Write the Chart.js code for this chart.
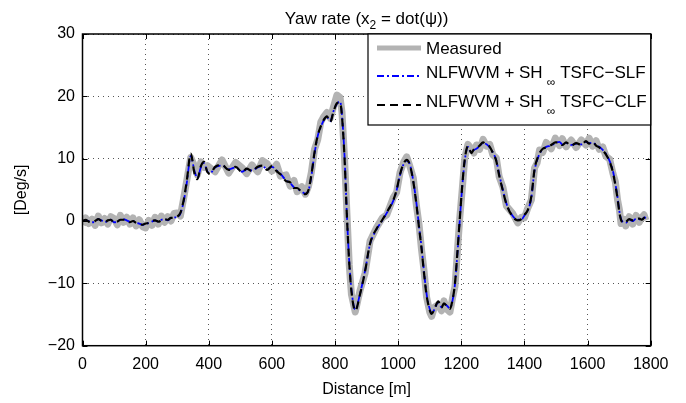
<!DOCTYPE html>
<html>
<head>
<meta charset="utf-8">
<script src="https://cdn.jsdelivr.net/npm/chart.js@4.4.1/dist/chart.umd.min.js"></script>
<style>
  body { margin: 0; background: #fff; }
  canvas { display: block; }
</style>
</head>
<body>
<canvas id="yawChart" width="686" height="403"></canvas>
<script>
// Distance [m] (same sampling for all three curves)
const distance = [
  0, 10, 20, 30, 40, 50, 60, 70, 80, 90,
  100, 110, 120, 130, 140, 150, 160, 170, 180, 190,
  200, 210, 220, 230, 240, 250, 260, 270, 280, 290,
  300, 310, 320, 330, 343, 355, 364, 375, 385, 395,
  405, 420, 442, 463, 485, 506, 520, 537, 555, 570,
  585, 600, 615, 627, 645, 658, 670, 680, 695, 706,
  716, 725, 735, 745, 755, 765, 774, 785, 795, 806,
  816, 822, 830, 838, 845, 852, 864, 879, 895, 911,
  932, 950, 964, 985, 995, 1006, 1018, 1027, 1037, 1048,
  1058, 1066, 1074, 1082, 1090, 1100, 1106, 1115, 1127, 1137,
  1145, 1153, 1164, 1172, 1180, 1188, 1195, 1203, 1211, 1221,
  1232, 1240, 1248, 1258, 1269, 1280, 1290, 1300, 1311, 1320,
  1332, 1343, 1363, 1379, 1390, 1400, 1410, 1422, 1432, 1440,
  1448, 1458, 1469, 1485, 1498, 1511, 1520, 1532, 1548, 1564,
  1580, 1595, 1605, 1616, 1627, 1637, 1648, 1658, 1670, 1680,
  1688, 1695, 1701, 1706, 1714, 1721, 1732, 1743, 1754, 1764,
  1772, 1779, 1785
];

// Measured yaw rate [Deg/s]
const measuredYaw = [
  -0.6, 0.5, -0.4, 0.3, -0.7, 0.8, -0.3, 0.4, -0.5, 0.7,
  0.4, -0.6, 0.9, -0.2, 0.6, -0.5, 0.5, -0.8, 0.2, -0.9,
  -1.1, 0.1, -0.7, 0.6, -0.5, 0.8, -0.2, 0.7, 0.0, 1.2,
  1.3, 0.8, 3.5, 6.4, 10.2, 8.8, 7.4, 9.5, 8.6, 8.9,
  8.5, 7.9, 9.8, 7.7, 9.4, 8.5, 7.6, 9.0, 7.9, 9.7,
  9.2, 8.0, 9.1, 7.2, 7.4, 5.6, 6.5, 4.7, 5.5, 4.3,
  5.6, 7.8, 11.5, 13.0, 15.9, 16.8, 17.4, 16.5, 18.3, 20.2,
  19.8, 17.5, 10.2, 0.9, -7.0, -11.8, -14.6, -11.2, -8.4, -3.2,
  -1.0, 0.5, 1.0, 3.8, 4.6, 7.8, 9.5, 10.3, 8.8, 6.9,
  2.4, -0.5, -4.6, -8.0, -12.2, -14.6, -15.3, -13.8, -13.4, -14.4,
  -12.8, -14.1, -14.6, -12.4, -10.5, -4.6, 0.4, 5.1, 10.1, 12.3,
  11.6, 10.9, 12.2, 11.5, 13.1, 12.0, 12.3, 10.6, 10.1, 7.1,
  5.4, 2.4, 1.2, -0.3, 0.6, 0.5, 2.0, 3.4, 8.5, 9.3,
  11.4, 11.0, 12.6, 11.6, 13.3, 12.1, 13.2, 11.9, 13.0, 11.8,
  13.0, 12.2, 13.3, 12.0, 12.9, 11.5, 11.9, 10.4, 9.9, 7.7,
  6.3, 3.4, 1.8, -0.4, 0.3, -0.8, 0.7, -0.5, 0.9, -0.2,
  0.6, 1.0, 0.1
];

// NLFWVM + SH∞ TSFC-SLF estimate
const slfYaw = [
  0.0, 0.1, 0.0, -0.2, -0.1, 0.3, 0.1, -0.2, 0.0, 0.2,
  -0.2, -0.1, 0.2, 0.3, 0.1, -0.1, 0.0, -0.3, -0.4, -0.6,
  -0.5, -0.3, -0.1, 0.1, -0.1, 0.2, 0.3, 0.1, 0.5, 0.6,
  0.6, 1.2, 3.0, 6.0, 10.4, 8.0, 6.9, 8.6, 9.3, 8.0,
  7.7, 8.6, 8.9, 8.3, 8.6, 7.9, 8.3, 8.1, 8.6, 8.8,
  8.3, 8.7, 8.1, 7.6, 6.5, 6.1, 5.4, 5.2, 4.7, 4.4,
  4.9, 7.2, 10.8, 13.6, 15.1, 16.2, 16.7, 16.0, 17.6, 18.8,
  19.2, 17.0, 10.5, 0.5, -6.5, -11.0, -14.2, -11.7, -8.0, -3.7,
  -1.3, 0.1, 1.3, 3.3, 4.9, 7.4, 9.2, 9.7, 9.1, 6.4,
  2.8, -0.8, -4.2, -8.2, -11.7, -14.1, -14.7, -14.2, -13.0, -13.8,
  -13.3, -13.5, -14.0, -12.8, -10.1, -5.0, 0.0, 5.5, 9.7, 11.9,
  11.0, 11.4, 11.6, 12.0, 12.5, 12.3, 11.8, 11.0, 9.7, 7.5,
  4.9, 2.8, 0.8, 0.2, 0.2, 0.9, 1.6, 3.8, 8.1, 9.7,
  10.8, 11.5, 11.9, 12.1, 12.5, 12.7, 12.3, 12.5, 12.2, 12.4,
  12.3, 12.7, 12.5, 12.6, 12.2, 11.9, 11.4, 10.8, 9.6, 8.1,
  6.0, 3.8, 1.5, 0.3, -0.2, -0.3, 0.2, 0.0, 0.4, 0.3,
  0.1, 0.6, 0.5
];

// NLFWVM + SH∞ TSFC-CLF estimate
const clfYaw = [
  0.0, 0.2, -0.1, -0.2, 0.0, 0.3, 0.0, -0.2, 0.1, 0.2,
  -0.3, -0.1, 0.2, 0.2, 0.1, -0.2, 0.0, -0.3, -0.5, -0.6,
  -0.4, -0.3, 0.0, 0.1, -0.1, 0.1, 0.3, 0.2, 0.5, 0.5,
  0.7, 1.3, 3.2, 6.3, 10.8, 7.6, 6.7, 8.8, 9.5, 7.9,
  7.6, 8.7, 9.0, 8.2, 8.7, 7.8, 8.4, 8.0, 8.7, 8.9,
  8.2, 8.8, 8.0, 7.5, 6.4, 6.2, 5.3, 5.3, 4.6, 4.3,
  5.0, 7.4, 11.0, 13.7, 15.2, 16.3, 16.8, 15.9, 17.5, 18.9,
  19.0, 16.8, 10.2, 0.3, -6.7, -11.3, -14.4, -11.8, -8.1, -3.6,
  -1.2, 0.2, 1.4, 3.4, 5.0, 7.5, 9.3, 9.8, 9.0, 6.3,
  2.6, -1.0, -4.4, -8.4, -11.9, -14.3, -14.9, -14.1, -12.9, -13.9,
  -13.2, -13.6, -14.1, -12.7, -10.0, -4.8, 0.2, 5.7, 9.9, 12.0,
  10.9, 11.5, 11.7, 12.1, 12.6, 12.2, 11.9, 10.9, 9.6, 7.3,
  4.8, 2.7, 0.7, 0.1, 0.3, 1.0, 1.7, 4.0, 8.3, 9.9,
  10.9, 11.6, 11.8, 12.2, 12.6, 12.6, 12.2, 12.6, 12.1, 12.5,
  12.2, 12.8, 12.4, 12.7, 12.1, 11.8, 11.3, 10.7, 9.5, 7.9,
  5.8, 3.6, 1.3, 0.2, -0.3, -0.2, 0.3, 0.1, 0.3, 0.4,
  0.2, 0.5, 0.6
];

// Tick labels
const xTicks = [0, 200, 400, 600, 800, 1000, 1200, 1400, 1600, 1800];
const yTicks = [-20, -10, 0, 10, 20, 30];

const legendLabels = ['Measured', 'NLFWVM + SH', 'NLFWVM + SH'];
const legendSuffix = ['', 'TSFC\u2212SLF', 'TSFC\u2212CLF'];

const FONT = '"Liberation Sans", Arial, Helvetica, sans-serif';

function toPoints(ys) {
    return distance.map((d, i) => ({ x: d, y: ys[i] }));
}

// Box, inward ticks, titles and legend (MATLAB look)
const matlabFrame = {
    id: 'matlabFrame',
    afterDraw(chart) {
        const { ctx, chartArea, scales } = chart;
        const { left, right, top, bottom } = chartArea;
        const xs = scales.x, ys = scales.y;
        ctx.save();

        // inward tick marks on all four sides
        ctx.strokeStyle = '#000';
        ctx.lineWidth = 1;
        ctx.setLineDash([]);
        ctx.beginPath();
        xTicks.forEach(v => {
            const px = Math.round(xs.getPixelForValue(v)) + 0.5;
            ctx.moveTo(px, bottom); ctx.lineTo(px, bottom - 5);
            ctx.moveTo(px, top); ctx.lineTo(px, top + 5);
        });
        yTicks.forEach(v => {
            const py = Math.round(ys.getPixelForValue(v)) + 0.5;
            ctx.moveTo(left, py); ctx.lineTo(left + 5, py);
            ctx.moveTo(right, py); ctx.lineTo(right - 5, py);
        });
        ctx.stroke();

        // axes box
        ctx.lineWidth = 1.5;
        ctx.strokeRect(left, top, right - left, bottom - top);

        // title
        ctx.fillStyle = '#000';
        ctx.textBaseline = 'alphabetic';
        ctx.textAlign = 'left';
        const t1 = 'Yaw rate (x', t2 = '2', t3 = ' = dot(\u03C8))';
        ctx.font = '17px ' + FONT;
        const w1 = ctx.measureText(t1).width, w3 = ctx.measureText(t3).width;
        ctx.font = '12px ' + FONT;
        const w2 = ctx.measureText(t2).width;
        let tx = (left + right) / 2 - (w1 + w2 + w3) / 2;
        ctx.font = '17px ' + FONT;
        ctx.fillText(t1, tx, 24);
        ctx.font = '12px ' + FONT;
        ctx.fillText(t2, tx + w1, 29);
        ctx.font = '17px ' + FONT;
        ctx.fillText(t3, tx + w1 + w2, 24);

        // axis titles
        ctx.font = '16px ' + FONT;
        ctx.textAlign = 'center';
        ctx.textBaseline = 'middle';
        ctx.fillText('Distance [m]', (left + right) / 2, 390);
        ctx.save();
        ctx.translate(22, (top + bottom) / 2);
        ctx.rotate(-Math.PI / 2);
        ctx.fillText('[Deg/s]', 0, 0);
        ctx.restore();

        // legend box
        const lx = 368, ly = top, lw = right - 368, lh = 91;
        ctx.fillStyle = '#fff';
        ctx.fillRect(lx, ly, lw, lh);
        ctx.strokeStyle = '#000';
        ctx.lineWidth = 1.2;
        ctx.strokeRect(lx, ly, lw, lh);

        const lineY = [48, 76, 105];
        const textY = [49, 73.5, 102.5];
        const styles = [
            { color: '#b3b3b3', width: 5, dash: [] },
            { color: '#0000ff', width: 1.8, dash: [7, 3, 2, 3] },
            { color: '#000000', width: 2.2, dash: [8, 5] }
        ];
        styles.forEach((s, i) => {
            ctx.strokeStyle = s.color;
            ctx.lineWidth = s.width;
            ctx.setLineDash(s.dash);
            ctx.beginPath();
            ctx.moveTo(377, lineY[i]);
            ctx.lineTo(421, lineY[i]);
            ctx.stroke();
        });
        ctx.setLineDash([]);
        ctx.fillStyle = '#000';
        ctx.textAlign = 'left';
        ctx.textBaseline = 'middle';
        legendLabels.forEach((lab, i) => {
            ctx.font = '17px ' + FONT;
            ctx.fillText(lab, 426, textY[i]);
            if (!legendSuffix[i]) return;
            const wl = ctx.measureText(lab).width;
            ctx.font = '12px ' + FONT;
            ctx.fillText('\u221E', 426 + wl + 4, textY[i] + 9);
            const wi = ctx.measureText('\u221E').width;
            ctx.font = '17px ' + FONT;
            ctx.fillText(legendSuffix[i], 426 + wl + 4 + wi + 5, textY[i]);
        });

        ctx.restore();
    }
};

new Chart(document.getElementById('yawChart'), {
    type: 'line',
    data: {
        datasets: [
            {
                label: 'Measured',
                data: toPoints(measuredYaw),
                borderColor: '#b3b3b3',
                borderWidth: 7,
                borderJoinStyle: 'round',
                pointRadius: 0,
                tension: 0,
                order: 2
            },
            {
                label: 'NLFWVM + SH\u221E TSFC\u2212SLF',
                data: toPoints(slfYaw),
                borderColor: '#0000ff',
                borderWidth: 1.8,
                borderDash: [7, 3, 2, 3],
                pointRadius: 0,
                cubicInterpolationMode: 'monotone',
                order: 1
            },
            {
                label: 'NLFWVM + SH\u221E TSFC\u2212CLF',
                data: toPoints(clfYaw),
                borderColor: '#000000',
                borderWidth: 2.2,
                borderDash: [8, 5],
                pointRadius: 0,
                cubicInterpolationMode: 'monotone',
                order: 0
            }
        ]
    },
    options: {
        responsive: false,
        animation: false,
        layout: { padding: { top: 34, right: 35.3, bottom: 0, left: 0 } },
        plugins: {
            legend: { display: false },
            title: { display: false },
            tooltip: { enabled: false }
        },
        scales: {
            x: {
                type: 'linear',
                min: 0,
                max: 1800,
                afterBuildTicks: s => { s.ticks = xTicks.map(v => ({ value: v })); },
                afterFit: s => { s.height = 57.3; },
                grid: { color: '#555', lineWidth: 1, drawTicks: false },
                border: { display: false, dash: [1, 4] },
                ticks: {
                    color: '#000',
                    font: { family: FONT, size: 16 },
                    padding: 9,
                    maxRotation: 0,
                    callback: v => String(v)
                }
            },
            y: {
                min: -20,
                max: 30,
                afterBuildTicks: s => { s.ticks = yTicks.map(v => ({ value: v })); },
                afterFit: s => { s.width = 82.5; },
                grid: { color: '#555', lineWidth: 1, drawTicks: false },
                border: { display: false, dash: [1, 4] },
                ticks: {
                    color: '#000',
                    font: { family: FONT, size: 16 },
                    padding: 7.5,
                    callback: v => String(v).replace('-', '\u2212')
                }
            }
        }
    },
    plugins: [matlabFrame]
});
</script>
</body>
</html>
